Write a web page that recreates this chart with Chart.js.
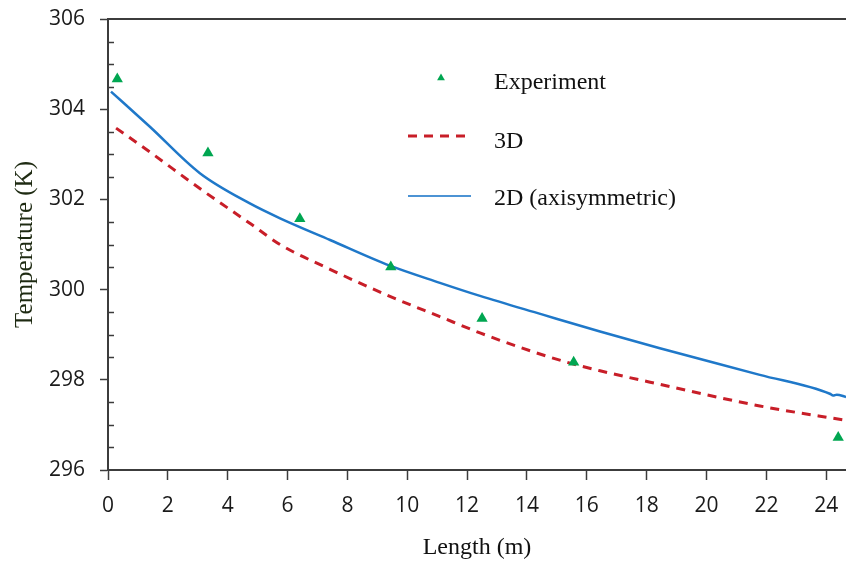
<!DOCTYPE html>
<html>
<head>
<meta charset="utf-8">
<script src="https://cdn.jsdelivr.net/npm/chart.js@4.4.1/dist/chart.umd.min.js"></script>
<style>
  html, body { margin: 0; padding: 0; background: #ffffff; }
  #wrap { width: 846px; height: 565px; }
</style>
</head>
<body>
<div id="wrap"><canvas id="c" width="846" height="565"></canvas></div>
<script>
// ---- data ----
const lengthExp = [0.31, 3.34, 6.41, 9.45, 12.50, 15.56, 24.40];
const tempExp   = [304.67, 303.03, 301.57, 300.50, 299.36, 298.39, 296.72];

const length3D = [0.27, 1.40, 3.07, 4.74, 5.75, 7.42, 9.42, 11.09, 12.43, 14.21, 15.44, 16.44, 18.44, 21.78, 24.66];
const temp3D   = [303.58, 303.05, 302.24, 301.47, 301.00, 300.45, 299.85, 299.40, 299.04, 298.62, 298.37, 298.20, 297.90, 297.42, 297.10];

const length2D = [0.10, 1.40, 3.07, 4.74, 5.75, 7.42, 9.42, 11.09, 12.43, 14.50, 16.44, 18.44, 21.78, 24.12, 24.23, 24.35, 24.66];
const temp2D   = [304.39, 303.61, 302.58, 301.91, 301.58, 301.10, 300.53, 300.15, 299.86, 299.45, 299.07, 298.70, 298.11, 297.69, 297.65, 297.67, 297.62];

const seriesLabels = ['Experiment', '3D', '2D (axisymmetric)'];
const xTickValues = [0, 2, 4, 6, 8, 10, 12, 14, 16, 18, 20, 22, 24];
const yTickValues = [296, 298, 300, 302, 304, 306];
const yMinorValues = [296.5, 297, 297.5, 298.5, 299, 299.5, 300.5, 301, 301.5, 302.5, 303, 303.5, 304.5, 305, 305.5];
const xTitle = 'Length (m)';
const yTitle = 'Temperature (K)';

// ---- styles ----
const GREEN = '#00a651';
const RED = '#c81e28';
const BLUE = '#1f78c9';
const AXIS = '#3c3c3c';
const SERIF = '"Liberation Serif", "Times New Roman", serif';
const SANS = '"Open Sans", "Noto Sans", sans-serif';

const toPts = (xs, ys) => xs.map((x, i) => ({x: x, y: ys[i]}));
const zeroPad = s => { s.paddingTop = 0; s.paddingBottom = 0; s.paddingLeft = 0; s.paddingRight = 0; };

const decorPlugin = {
  id: 'decor',
  afterDraw(chart) {
    const ctx = chart.ctx;
    const a = chart.chartArea;
    const ys = chart.scales.y;
    ctx.save();
    // top border
    ctx.strokeStyle = AXIS;
    ctx.lineWidth = 2;
    ctx.beginPath();
    ctx.moveTo(a.left, a.top);
    ctx.lineTo(a.right, a.top);
    ctx.stroke();
    // minor ticks (inward)
    ctx.lineWidth = 1.5;
    ctx.beginPath();
    yMinorValues.forEach(v => {
      const py = Math.round(ys.getPixelForValue(v)) + 0.5;
      ctx.moveTo(a.left, py);
      ctx.lineTo(a.left + 6, py);
    });
    ctx.stroke();

    // legend
    const ds = chart.data.datasets;
    const textX = 494;
    const rows = [89, 147.5, 205];
    ctx.font = '24px ' + SERIF;
    ctx.fillStyle = '#111';
    ctx.textAlign = 'left';
    ctx.textBaseline = 'alphabetic';
    ds.forEach((d, i) => ctx.fillText(d.label, textX, rows[i]));
    // experiment marker
    const r = 4.5, mx = 441, my = 78;
    ctx.fillStyle = ds[0].backgroundColor;
    ctx.beginPath();
    let rad = 0;
    ctx.moveTo(mx + Math.sin(rad) * r, my - Math.cos(rad) * r);
    rad += 2 * Math.PI / 3;
    ctx.lineTo(mx + Math.sin(rad) * r, my - Math.cos(rad) * r);
    rad += 2 * Math.PI / 3;
    ctx.lineTo(mx + Math.sin(rad) * r, my - Math.cos(rad) * r);
    ctx.closePath();
    ctx.fill();
    // 3D dashed
    ctx.strokeStyle = ds[1].borderColor;
    ctx.lineWidth = 3;
    ctx.setLineDash(ds[1].borderDash);
    ctx.beginPath();
    ctx.moveTo(408, 136);
    ctx.lineTo(465, 136);
    ctx.stroke();
    // 2D solid
    ctx.setLineDash([]);
    ctx.strokeStyle = ds[2].borderColor;
    ctx.lineWidth = 2;
    ctx.globalAlpha = 0.8;
    ctx.beginPath();
    ctx.moveTo(408, 196);
    ctx.lineTo(471, 196);
    ctx.stroke();
    ctx.restore();
  }
};

new Chart(document.getElementById('c'), {
  type: 'scatter',
  data: {
    datasets: [
      {
        label: seriesLabels[0],
        data: toPts(lengthExp, tempExp),
        showLine: false,
        pointStyle: 'triangle',
        pointRadius: 6.5,
        pointHoverRadius: 6.5,
        backgroundColor: GREEN,
        borderColor: GREEN,
        borderWidth: 0,
        order: 0
      },
      {
        label: seriesLabels[1],
        data: toPts(length3D, temp3D),
        showLine: true,
        borderColor: RED,
        borderWidth: 3,
        borderDash: [9, 7],
        pointRadius: 0,
        pointHoverRadius: 0,
        cubicInterpolationMode: 'monotone',
        fill: false,
        order: 2
      },
      {
        label: seriesLabels[2],
        data: toPts(length2D, temp2D),
        showLine: true,
        borderColor: BLUE,
        borderWidth: 2.5,
        pointRadius: 0,
        pointHoverRadius: 0,
        cubicInterpolationMode: 'monotone',
        fill: false,
        order: 1
      }
    ]
  },
  options: {
    responsive: false,
    animation: false,
    events: [],
    layout: { autoPadding: false, padding: { top: 19, right: 0, left: 0, bottom: 0 } },
    plugins: {
      legend: { display: false },
      tooltip: { enabled: false }
    },
    scales: {
      x: {
        type: 'linear',
        min: 0,
        max: 24.66,
        afterBuildTicks: s => { s.ticks = xTickValues.map(v => ({value: v})); },
        afterFit: s => { s.height = 95; zeroPad(s); },
        grid: {
          drawOnChartArea: false,
          drawTicks: true,
          tickLength: 10,
          tickWidth: 1.5,
          tickColor: AXIS
        },
        border: { display: true, color: AXIS, width: 2 },
        ticks: {
          autoSkip: false,
          maxRotation: 0,
          padding: 13,
          color: '#1a1a1a',
          font: { family: SANS, size: 21 }
        },
        title: {
          display: true,
          text: xTitle,
          color: '#111',
          font: { family: SERIF, size: 24 },
          padding: { top: 0, bottom: 3 }
        }
      },
      y: {
        type: 'linear',
        min: 296,
        max: 306,
        afterBuildTicks: s => { s.ticks = yTickValues.map(v => ({value: v})); },
        afterFit: s => { s.width = 108; zeroPad(s); },
        grid: {
          drawOnChartArea: false,
          drawTicks: true,
          tickLength: 8,
          tickWidth: 1.5,
          tickColor: AXIS
        },
        border: { display: true, color: AXIS, width: 2 },
        ticks: {
          padding: 15,
          color: '#1a1a1a',
          font: { family: SANS, size: 21 }
        },
        title: {
          display: true,
          text: yTitle,
          color: '#1e2a12',
          font: { family: SERIF, size: 25 },
          padding: { top: 10, bottom: 0 }
        }
      }
    }
  },
  plugins: [decorPlugin]
});
</script>
</body>
</html>
